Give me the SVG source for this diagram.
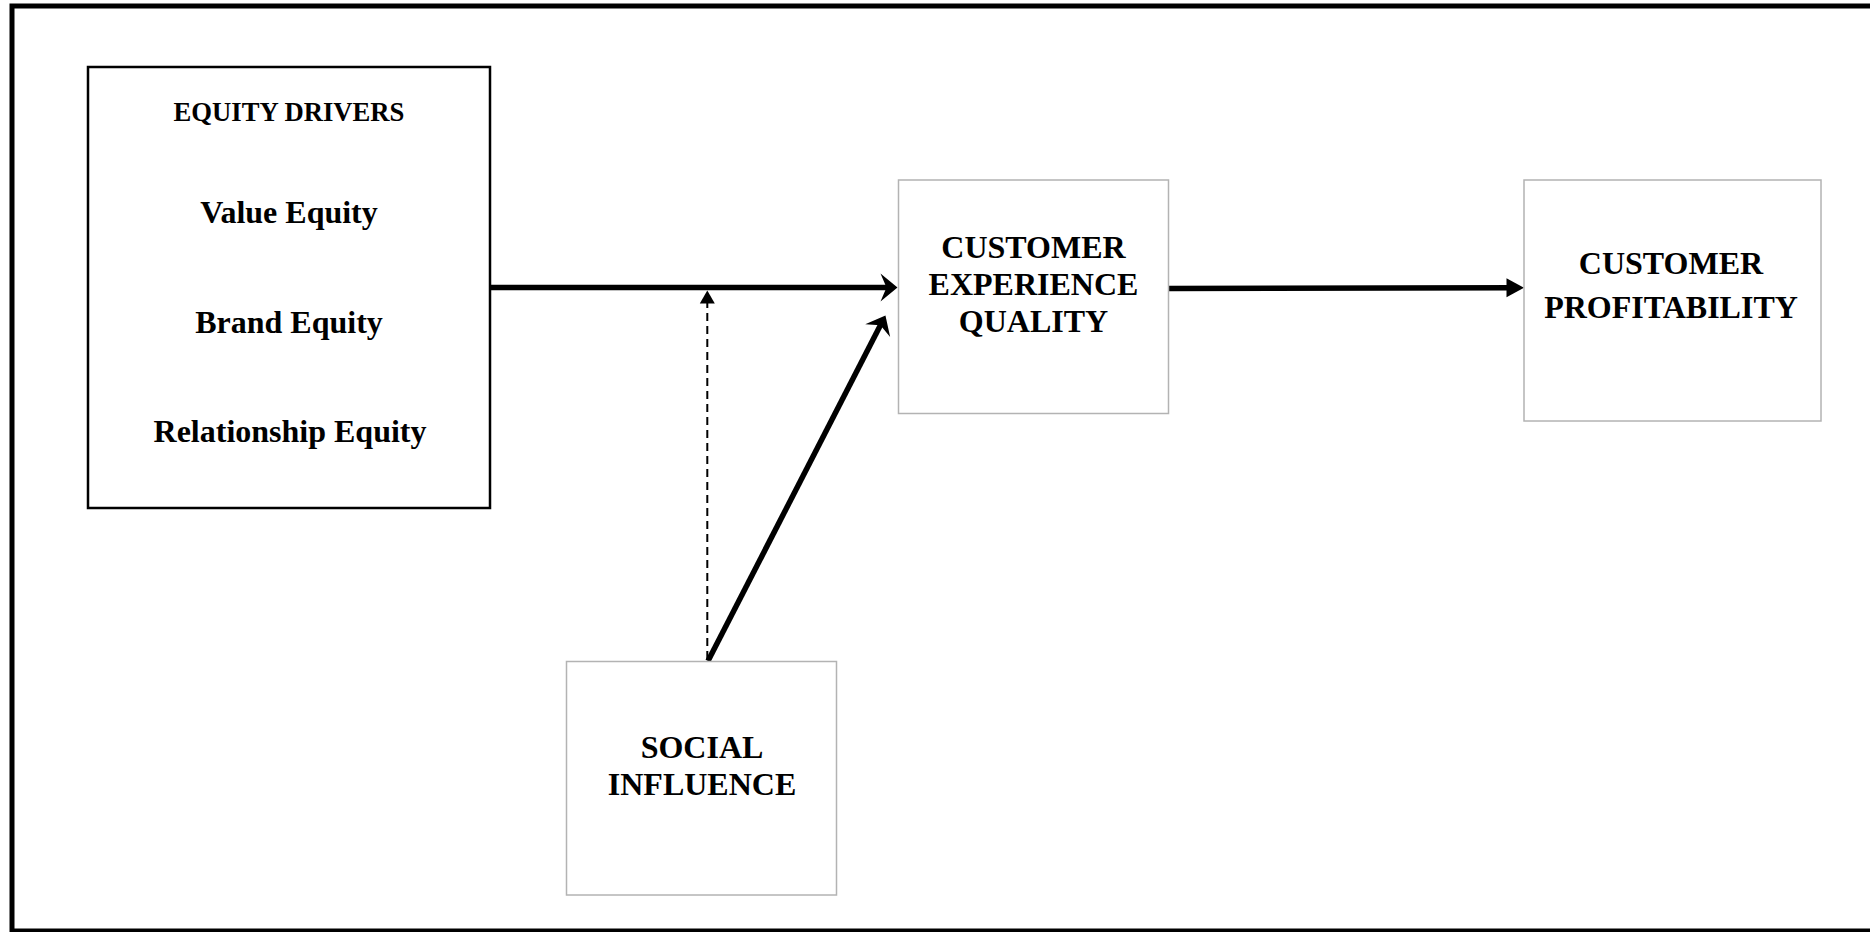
<svg xmlns="http://www.w3.org/2000/svg" width="1870" height="932" viewBox="0 0 1870 932">
  <style>
    .frame { fill: none; stroke: #000; stroke-width: 5; }
    .box-main { fill: #fff; stroke: #000; stroke-width: 2.5; }
    .box { fill: #fff; stroke: #b3b3b3; stroke-width: 1.5; }
    .label { font-family: "Liberation Serif", "Times New Roman", serif; font-weight: bold; fill: #000; text-anchor: middle; font-size: 32px; }
    .heading { font-size: 26.67px; }
    .link { fill: none; stroke: #000; stroke-width: 5.5; }
    .moderator { fill: none; stroke: #000; stroke-width: 2; stroke-dasharray: 8 5; }
  </style>
  <defs>
    <!-- barbed arrowhead, tip at x=17 -->
    <marker id="barb" markerUnits="userSpaceOnUse" viewBox="-1 -15 19 30" markerWidth="19" markerHeight="30" refX="9" refY="0" orient="auto">
      <path d="M0,-14 L17,0 L0,14 L6,0 Z" fill="#000"/>
    </marker>
    <!-- plain triangular arrowhead, tip at x=17.5 -->
    <marker id="tri" markerUnits="userSpaceOnUse" viewBox="-1 -11 19.5 22" markerWidth="19.5" markerHeight="22" refX="9.5" refY="0" orient="auto">
      <path d="M0,-9.5 L17.5,0 L0,9.5 Z" fill="#000"/>
    </marker>
    <!-- small arrowhead for the dashed moderating link, tip at x=13 -->
    <marker id="small" markerUnits="userSpaceOnUse" viewBox="-1 -9 15 18" markerWidth="15" markerHeight="18" refX="5.5" refY="0" orient="auto">
      <path d="M0,-7.5 L13,0 L0,7.5 Z" fill="#000"/>
    </marker>
  </defs>

  <rect x="0" y="0" width="1870" height="932" fill="#fff"/>
  <rect class="frame" x="12" y="6" width="1870" height="925"/>

  <g id="connectors">
    <line class="link" x1="490" y1="287.5" x2="889.5" y2="287.5" marker-end="url(#barb)"/>
    <line class="link" x1="708" y1="661" x2="881.8" y2="322.6" marker-end="url(#barb)"/>
    <line class="link" x1="1169" y1="288.5" x2="1516" y2="287.8" marker-end="url(#tri)"/>
    <line class="moderator" x1="707.3" y1="659" x2="707.3" y2="298" marker-end="url(#small)"/>
  </g>

  <g id="equity-drivers">
    <rect class="box-main" x="88" y="67" width="402" height="441"/>
    <text class="label heading" x="289" y="121">EQUITY DRIVERS</text>
    <text class="label" x="289" y="223">Value Equity</text>
    <text class="label" x="289" y="333">Brand Equity</text>
    <text class="label" x="290" y="441.5">Relationship Equity</text>
  </g>

  <g id="customer-experience-quality">
    <rect class="box" x="898.5" y="180" width="270" height="233.5"/>
    <text class="label" x="1033.5" y="257.5">CUSTOMER</text>
    <text class="label" x="1033.5" y="295">EXPERIENCE</text>
    <text class="label" x="1033.5" y="332">QUALITY</text>
  </g>

  <g id="customer-profitability">
    <rect class="box" x="1524" y="180" width="297" height="241"/>
    <text class="label" x="1671" y="274">CUSTOMER</text>
    <text class="label" x="1671" y="318">PROFITABILITY</text>
  </g>

  <g id="social-influence">
    <rect class="box" x="566.5" y="661.5" width="270" height="233.5"/>
    <text class="label" x="702" y="757.5">SOCIAL</text>
    <text class="label" x="702" y="794.5">INFLUENCE</text>
  </g>
</svg>
